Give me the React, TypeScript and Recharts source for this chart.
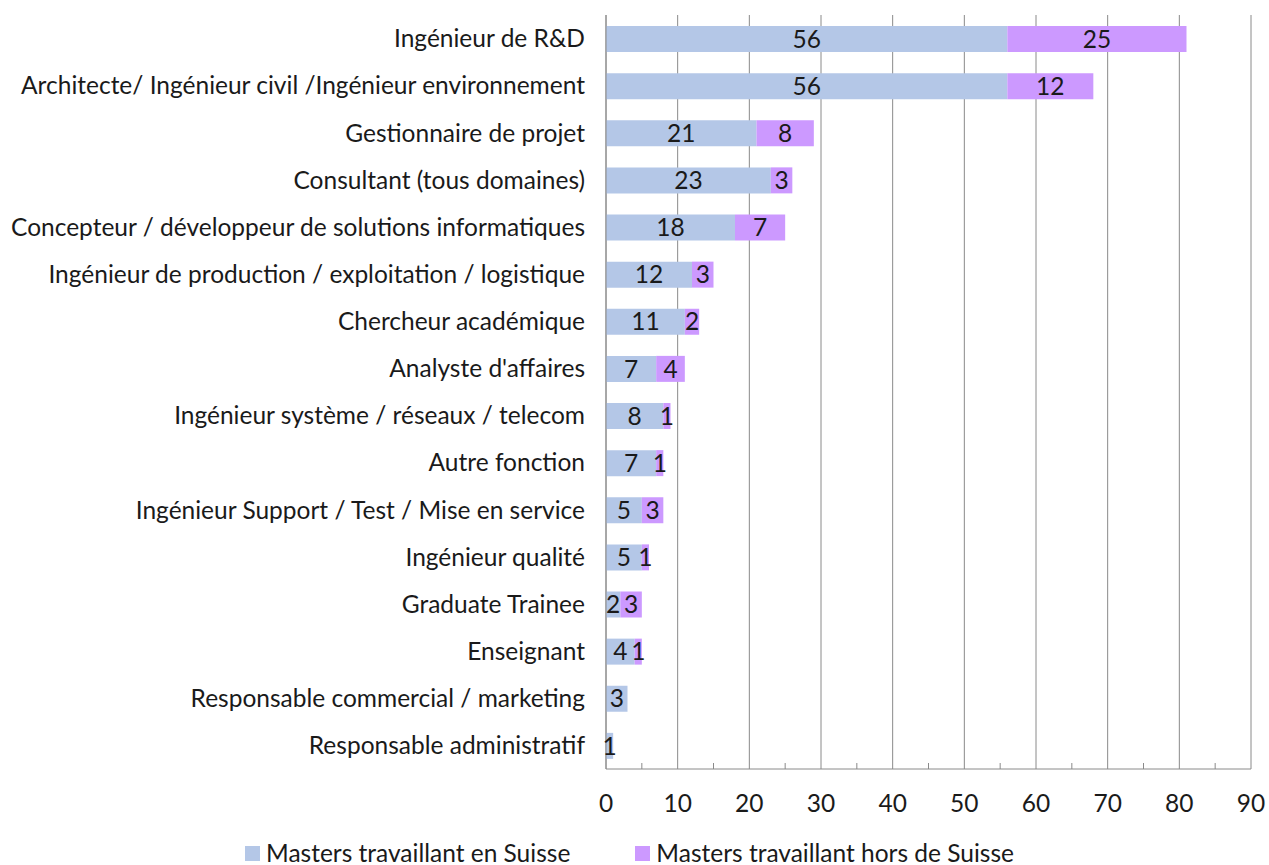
import React from 'react';
import {
  BarChart, Bar, XAxis, YAxis, CartesianGrid, Legend, LabelList, ReferenceLine,
} from 'recharts';

// values
const jobs = [
  'Ingénieur de R&D',
  'Architecte/ Ingénieur civil /Ingénieur environnement',
  'Gestionnaire de projet',
  'Consultant (tous domaines)',
  'Concepteur / développeur de solutions informatiques',
  'Ingénieur de production / exploitation / logistique',
  'Chercheur académique',
  "Analyste d'affaires",
  'Ingénieur système / réseaux / telecom',
  'Autre fonction',
  'Ingénieur Support / Test / Mise en service',
  'Ingénieur qualité',
  'Graduate Trainee',
  'Enseignant',
  'Responsable commercial / marketing',
  'Responsable administratif',
];
const enSuisse = [56, 56, 21, 23, 18, 12, 11, 7, 8, 7, 5, 5, 2, 4, 3, 1];
const horsSuisse = [25, 12, 8, 3, 7, 3, 2, 4, 1, 1, 3, 1, 3, 1, 0, 0];
const majorTicks = [0, 10, 20, 30, 40, 50, 60, 70, 80, 90];
const minorTicks = [5, 15, 25, 35, 45, 55, 65, 75, 85];

const seriesNames = ['Masters travaillant en Suisse', 'Masters travaillant hors de Suisse'];
const colors = ['#b4c7e7', '#cc99ff'];

const data = jobs.map((name, i) => ({ name, suisse: enSuisse[i], hors: horsSuisse[i] }));

const font = 'Lato, "Open Sans", sans-serif';
const fontSize = 24.5;
const axisColor = '#8a8a8a';
const textColor = '#1a1a1a';

const hideZero = (v: any) => (v ? v : '');

const MinorTick = (p: any) => {
  const yb = Math.max(p.y1, p.y2);
  return <line x1={p.x1} x2={p.x2} y1={yb - 6} y2={yb} stroke={axisColor} strokeWidth={1} />;
};

const LegendContent = () => (
  <div style={{ height: 36, display: 'flex', justifyContent: 'center', boxSizing: 'border-box', paddingTop: 12, paddingLeft: 8, fontFamily: font, fontSize, color: textColor, lineHeight: '26px', whiteSpace: 'nowrap' }}>
    {seriesNames.map((n, i) => (
      <span key={n} style={{ display: 'inline-flex', alignItems: 'center', marginRight: i === 0 ? 65 : 0 }}>
        <span style={{ width: 15, height: 15, background: colors[i], marginRight: 6, display: 'inline-block' }} />
        {n}
      </span>
    ))}
  </div>
);

export default function App() {
  return (
    <div style={{ position: 'absolute', left: 0, top: 0, width: 1269, height: 865, background: '#fff' }}>
      <BarChart
        width={1269}
        height={865}
        data={data}
        layout="vertical"
        margin={{ top: 15, right: 18, bottom: 0, left: 0 }}
      >
        <CartesianGrid horizontal={false} stroke={axisColor} />
        <XAxis
          type="number"
          domain={[0, 90]}
          ticks={majorTicks}
          height={60}
          tickLine={false}
          tickSize={0}
          tickMargin={26}
          axisLine={{ stroke: axisColor }}
          tick={{ fontSize, fill: textColor, fontFamily: font }}
        />
        <YAxis
          type="category"
          dataKey="name"
          width={606}
          tickLine={false}
          tickSize={0}
          tickMargin={21}
          axisLine={{ stroke: axisColor }}
          interval={0}
          tick={{ fontSize, fill: textColor, fontFamily: font }}
        />
        {minorTicks.map((v) => (
          <ReferenceLine key={v} x={v} shape={MinorTick} />
        ))}
        <Bar dataKey="suisse" stackId="a" fill={colors[0]} barSize={26} name={seriesNames[0]} isAnimationActive={false}>
          <LabelList dataKey="suisse" position="center" formatter={hideZero} style={{ fontSize, fill: textColor, fontFamily: font }} />
        </Bar>
        <Bar dataKey="hors" stackId="a" fill={colors[1]} barSize={26} name={seriesNames[1]} isAnimationActive={false}>
          <LabelList dataKey="hors" position="center" formatter={hideZero} style={{ fontSize, fill: textColor, fontFamily: font }} />
        </Bar>
        <Legend verticalAlign="bottom" content={LegendContent} wrapperStyle={{ bottom: 0 }} />
      </BarChart>
    </div>
  );
}
